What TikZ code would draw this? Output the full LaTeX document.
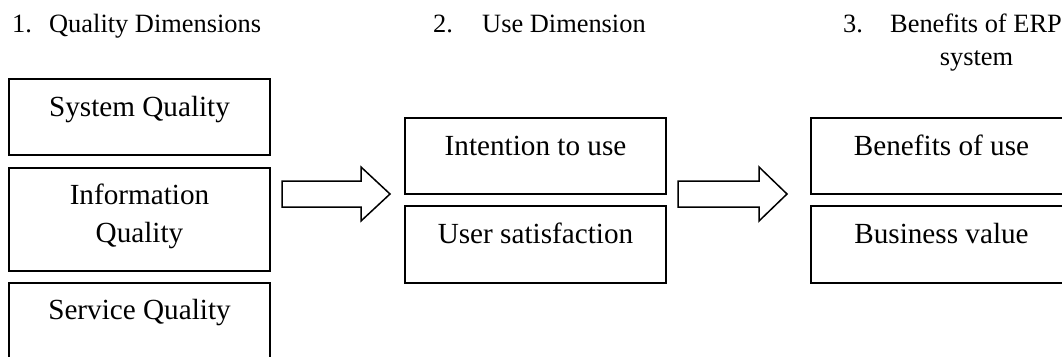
\documentclass[tikz,border=0pt]{standalone}
\usepackage{fontspec}
\setmainfont{Liberation Serif}
\begin{document}
\begin{tikzpicture}[x=1pt,y=-1pt,
  box/.style={draw, line width=1.5pt, inner sep=0pt, minimum width=261pt},
  boxtext/.style={anchor=base, inner sep=0pt, align=center,
    font=\fontsize{29.2}{38}\selectfont},
  heading/.style={inner sep=0pt, font=\fontsize{26.4}{33}\selectfont},
  blockarrow/.style={draw, line width=1.5pt, line join=miter}]
\useasboundingbox (0,0) rectangle (1062,356);

% column headings
\node[heading, anchor=base west] (h1) at (12,32) {\makebox[37pt][l]{1.}Quality Dimensions};
\node[heading, anchor=base west] (h2) at (433,32) {\makebox[49pt][l]{2.}Use Dimension};
\node[heading, anchor=base west] (h3) at (843,32) {\makebox[47pt][l]{3.}Benefits of ERP};
\node[heading, anchor=base] (h3b) at (976.5,65) {system};

% quality dimensions
\node[box, minimum height=76pt]  (sq)  at (139.5,117)   {};
\node[box, minimum height=103pt] (iq)  at (139.5,219.5) {};
\node[box, minimum height=100pt] (svq) at (139.5,333)   {};
\node[boxtext] at ([yshift=-38pt]sq.north)  {System Quality};
% two-line label: the base anchor sits on the last line
\node[boxtext] at ([yshift=-75pt]iq.north)  {Information\\Quality};
\node[boxtext] at ([yshift=-37pt]svq.north) {Service Quality};

% use dimension
\node[box, minimum height=76pt] (itu) at (535.5,156)   {};
\node[box, minimum height=77pt] (us)  at (535.5,244.5) {};
\node[boxtext] at ([yshift=-38pt]itu.north) {Intention to use};
\node[boxtext] at ([yshift=-38pt]us.north)  {User satisfaction};

% benefits
\node[box, minimum height=76pt] (bu) at (941.5,156)   {};
\node[box, minimum height=77pt] (bv) at (941.5,244.5) {};
\node[boxtext] at ([yshift=-38pt]bu.north) {Benefits of use};
\node[boxtext] at ([yshift=-38pt]bv.north) {Business value};

% block arrows between the columns
\draw[blockarrow] (282,181) -- (361,181) -- (361,167) -- (390,194)
  -- (361,221) -- (361,207) -- (282,207) -- cycle;
\draw[blockarrow] (678,181) -- (759,181) -- (759,167) -- (787,194)
  -- (759,221) -- (759,207) -- (678,207) -- cycle;
\end{tikzpicture}
\end{document}
